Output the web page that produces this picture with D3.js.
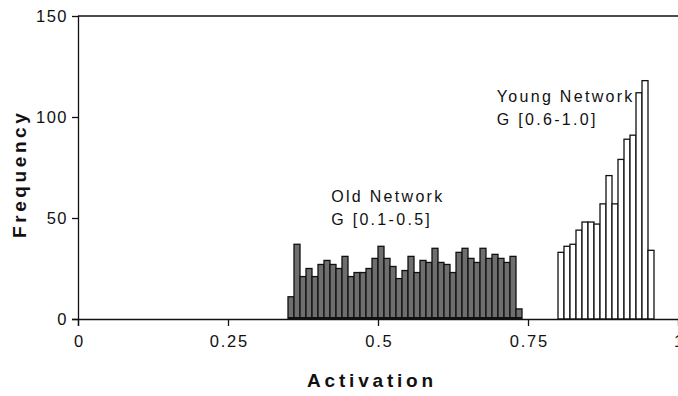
<!DOCTYPE html>
<html>
<head>
<meta charset="utf-8">
<script src="https://cdn.jsdelivr.net/npm/d3@7/dist/d3.min.js"></script>
<style>
  html, body { margin: 0; padding: 0; background: #fff; }
  svg { display: block; }
  text { font-family: "Liberation Sans", Arial, Helvetica, sans-serif; fill: #111; }
</style>
</head>
<body>
<svg id="chart" width="678" height="396"></svg>
<script>
// ---- Data ----
const binWidth = 0.01;
const oldBins = [0.35,0.36,0.37,0.38,0.39,0.40,0.41,0.42,0.43,0.44,0.45,0.46,0.47,0.48,0.49,
                 0.50,0.51,0.52,0.53,0.54,0.55,0.56,0.57,0.58,0.59,0.60,0.61,0.62,0.63,0.64,
                 0.65,0.66,0.67,0.68,0.69,0.70,0.71,0.72,0.73];
const oldFreq = [11,37,21,25,21,27,29,27,25,31,21,23,23,25,30,
                 36,30,26,20,24,31,23,29,28,35,28,27,23,33,35,
                 30,28,35,30,32,30,28,31,5];
const youngBins = [0.80,0.81,0.82,0.83,0.84,0.85,0.86,0.87,0.88,0.89,0.90,0.91,0.92,0.93,0.94,0.95];
const youngFreq = [33,36,37,44,48,48,47,57,71,57,79,89,91,112,118,34];
const xTicks = [0, 0.25, 0.5, 0.75, 1];
const xTickLabels = ["0", "0.25", "0.5", "0.75", "1"];
const yTicks = [0, 50, 100, 150];
const oldLabel = ["Old Network", "G [0.1-0.5]"];
const youngLabel = ["Young Network", "G [0.6-1.0]"];

// ---- Layout ----
const svg = d3.select("#chart");
const m = { left: 78, right: 678, top: 16, bottom: 319 };
const x = d3.scaleLinear().domain([0, 1]).range([m.left, m.right]);
const y = d3.scaleLinear().domain([0, 150]).range([m.bottom, m.top]);

// top frame line
svg.append("line")
  .attr("x1", x(0)).attr("x2", x(1))
  .attr("y1", y(150)).attr("y2", y(150))
  .attr("stroke", "#111").attr("stroke-width", 1.3);

// bars: old network (gray)
svg.append("g").selectAll("rect")
  .data(oldBins.map((b, i) => ({ b, v: oldFreq[i] })))
  .join("rect")
  .attr("x", d => x(d.b))
  .attr("width", d => x(d.b + binWidth) - x(d.b))
  .attr("y", d => y(d.v))
  .attr("height", d => y(0) - y(d.v))
  .attr("fill", "#6e6e6e")
  .attr("stroke", "#111")
  .attr("stroke-width", 1.3);

// bars: young network (white)
svg.append("g").selectAll("rect")
  .data(youngBins.map((b, i) => ({ b, v: youngFreq[i] })))
  .join("rect")
  .attr("x", d => x(d.b))
  .attr("width", d => x(d.b + binWidth) - x(d.b))
  .attr("y", d => y(d.v))
  .attr("height", d => y(0) - y(d.v))
  .attr("fill", "#fff")
  .attr("stroke", "#111")
  .attr("stroke-width", 1.3);

// thick baseline under gray bars
svg.append("line")
  .attr("x1", x(oldBins[0])).attr("x2", x(oldBins[oldBins.length - 1] + binWidth))
  .attr("y1", y(0) - 0.5).attr("y2", y(0) - 0.5)
  .attr("stroke", "#111").attr("stroke-width", 3);

// axes
const xAxis = d3.axisBottom(x).tickValues(xTicks)
  .tickFormat((d, i) => xTickLabels[i]).tickSize(7).tickPadding(9);
const gx = svg.append("g").attr("transform", `translate(0,${y(0)})`).call(xAxis);
gx.select(".domain").attr("d", `M${x(0) - 6},0.5H${x(1)}`).attr("stroke", "#111").attr("stroke-width", 1.3);
gx.selectAll(".tick line").attr("stroke", "#111").attr("stroke-width", 1.3);
gx.selectAll(".tick text").attr("font-size", 16.5).attr("letter-spacing", "1.8px")
  .attr("dx", "0.9px")
  .attr("font-family", "Liberation Sans, Arial, sans-serif").attr("fill", "#222");

const yAxis = d3.axisLeft(y).tickValues(yTicks).tickSize(6).tickPadding(4);
const gy = svg.append("g").attr("transform", `translate(${x(0)},0)`).call(yAxis);
gy.select(".domain").attr("d", `M0.5,${y(150)}V${y(0) + 7}`).attr("stroke", "#111").attr("stroke-width", 1.3);
gy.selectAll(".tick line").attr("stroke", "#111").attr("stroke-width", 1.3);
gy.selectAll(".tick text").attr("font-size", 16.5).attr("letter-spacing", "1.5px")
  .attr("font-family", "Liberation Sans, Arial, sans-serif").attr("fill", "#222");

// axis titles
svg.append("text")
  .attr("x", 370 + 2).attr("y", 387)
  .attr("text-anchor", "middle")
  .attr("font-size", 19).attr("font-weight", "bold").attr("letter-spacing", "3.8px")
  .text("Activation");

svg.append("text")
  .attr("transform", `translate(26,${172 + 1.8}) rotate(-90)`)
  .attr("text-anchor", "middle")
  .attr("font-size", 19).attr("font-weight", "bold").attr("letter-spacing", "3.6px")
  .text("Frequency");

// annotations
function label(lines, xv, yv) {
  const t = svg.append("text").attr("font-size", 16).attr("letter-spacing", "2.3px").attr("fill", "#222");
  lines.forEach((s, i) => {
    t.append("tspan").attr("x", x(xv)).attr("y", y(yv) + i * 23).text(s);
  });
}
label(oldLabel, 0.422, 58);
label(youngLabel, 0.698, 107.5);
</script>
</body>
</html>
